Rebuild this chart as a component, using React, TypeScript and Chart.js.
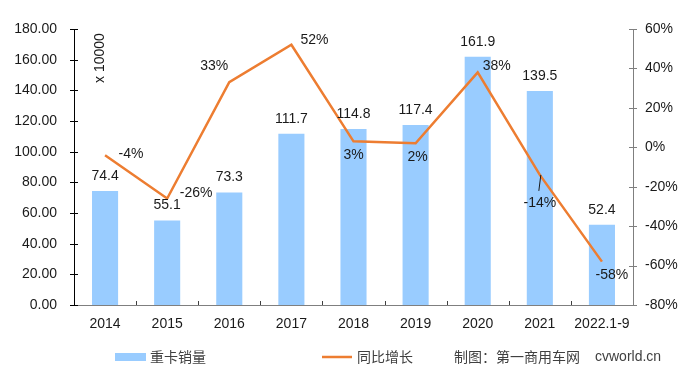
import React, { useEffect, useRef } from "react";
import { Chart, registerables } from "chart.js";

Chart.register(...registerables);

const categories = ["2014", "2015", "2016", "2017", "2018", "2019", "2020", "2021", "2022.1-9"];
const sales = [74.4, 55.1, 73.3, 111.7, 114.8, 117.4, 161.9, 139.5, 52.4];
const growth = [-4, -26, 33, 52, 3, 2, 38, -14, -58];
const growthLabels = ["-4%", "-26%", "33%", "52%", "3%", "2%", "38%", "-14%", "-58%"];
// label offsets (dx, dy) relative to the line point
const growthOffsets = [
  [26, -1], [29, -5], [-15, -16], [23, -5], [0, 14], [2, 14], [19, -6], [0, 28], [10, 14],
];

const FONT = "'Liberation Sans', Arial, sans-serif";

const labelPlugin = {
  id: "labels",
  afterDatasetsDraw(chart: any) {
    const ctx = chart.ctx;
    const area = chart.chartArea;
    const yS = chart.scales.y;
    const y1S = chart.scales.y1;
    ctx.save();
    // crossing tick marks
    ctx.lineWidth = 1;
    ctx.strokeStyle = "#000";
    yS.ticks.forEach((t: any) => {
      const p = Math.round(yS.getPixelForValue(t.value)) + 0.5;
      ctx.beginPath();
      ctx.moveTo(area.left - 4, p);
      ctx.lineTo(area.left + 4, p);
      ctx.stroke();
    });
    ctx.strokeStyle = "#7f7f7f";
    y1S.ticks.forEach((t: any) => {
      const p = Math.round(y1S.getPixelForValue(t.value)) + 0.5;
      ctx.beginPath();
      ctx.moveTo(area.right - 4, p);
      ctx.lineTo(area.right + 4, p);
      ctx.stroke();
    });
    const n = categories.length;
    const cw = (area.right - area.left) / n;
    ctx.strokeStyle = "#404040";
    for (let i = 1; i < n; i++) {
      const px = Math.round(area.left + i * cw) + 0.5;
      ctx.beginPath();
      ctx.moveTo(px, area.bottom - 4);
      ctx.lineTo(px, area.bottom);
      ctx.stroke();
    }

    ctx.font = `14px ${FONT}`;
    ctx.fillStyle = "#1a1a1a";
    ctx.textAlign = "center";
    ctx.textBaseline = "middle";
    // bar labels
    const barMeta = chart.getDatasetMeta(1);
    barMeta.data.forEach((el: any, i: number) => {
      ctx.fillText(sales[i].toFixed(1), el.x, el.y - 15);
    });
    // line labels
    const lineMeta = chart.getDatasetMeta(0);
    lineMeta.data.forEach((el: any, i: number) => {
      const [dx, dy] = growthOffsets[i];
      ctx.fillText(growthLabels[i], el.x + dx, el.y + dy);
      if (i === 7) {
        ctx.strokeStyle = "#1a1a1a";
        ctx.beginPath();
        ctx.moveTo(el.x + 1, el.y);
        ctx.lineTo(el.x - 1, el.y + dy - 12);
        ctx.stroke();
      }
    });

    // unit text
    ctx.save();
    ctx.translate(100, 58);
    ctx.rotate(-Math.PI / 2);
    ctx.fillText("x 10000", 0, 0);
    ctx.restore();

    // legend
    const ly = 357;
    ctx.fillStyle = "#99CCFF";
    ctx.fillRect(115, ly - 4, 31, 8);
    ctx.strokeStyle = "#ED7D31";
    ctx.lineWidth = 2.5;
    ctx.beginPath();
    ctx.moveTo(322, ly);
    ctx.lineTo(352, ly);
    ctx.stroke();
    ctx.fillStyle = "#404040";
    ctx.textAlign = "left";
    ctx.font = `14px 'Noto Sans CJK SC', ${FONT}`;
    ctx.fillText("重卡销量", 150, ly);
    ctx.fillText("同比增长", 357, ly);
    ctx.fillText("制图：第一商用车网", 454, ly);
    ctx.font = `14px ${FONT}`;
    ctx.fillText("cvworld.cn", 595, ly);
    ctx.restore();
  },
};

export default function App() {
  const ref = useRef<HTMLCanvasElement>(null);
  useEffect(() => {
    if (!ref.current) return;
    const chart = new Chart(ref.current, {
      type: "bar",
      data: {
        labels: categories,
        datasets: [
          {
            type: "line",
            label: "同比增长",
            data: growth,
            yAxisID: "y1",
            borderColor: "#ED7D31",
            backgroundColor: "#ED7D31",
            borderWidth: 2.5,
            pointRadius: 0,
            tension: 0,
            order: 0,
          } as any,
          {
            type: "bar",
            label: "重卡销量",
            data: sales,
            yAxisID: "y",
            backgroundColor: "#99CCFF",
            categoryPercentage: 1,
            barPercentage: 0.42,
            order: 1,
          },
        ],
      },
      options: {
        responsive: false,
        animation: false,
        layout: { padding: { left: 0, right: 0, top: 29, bottom: 0 } },
        plugins: { legend: { display: false }, tooltip: { enabled: false } },
        scales: {
          x: {
            offset: true,
            grid: { display: false, drawTicks: false },
            border: { display: true, color: "#7f7f7f", width: 1 },
            ticks: { color: "#1a1a1a", font: { family: FONT, size: 14 }, padding: 11, maxRotation: 0 },
            afterFit: (s: any) => { s.height = 77; },
          },
          y: {
            position: "left",
            min: 0,
            max: 180,
            grid: { display: false, drawTicks: false },
            border: { display: true, color: "#000", width: 1 },
            ticks: {
              stepSize: 20,
              color: "#1a1a1a",
              font: { family: FONT, size: 14 },
              padding: 17,
              callback: (v: any) => Number(v).toFixed(2),
            },
            afterFit: (s: any) => { s.width = 74; },
          },
          y1: {
            position: "right",
            min: -80,
            max: 60,
            grid: { display: false, drawTicks: false },
            border: { display: true, color: "#7f7f7f", width: 1 },
            ticks: {
              stepSize: 20,
              color: "#1a1a1a",
              font: { family: FONT, size: 14 },
              padding: 12,
              callback: (v: any) => v + "%",
            },
            afterFit: (s: any) => { s.width = 67; },
          },
        },
      },
      plugins: [labelPlugin],
    });
    return () => chart.destroy();
  }, []);
  return (
    <div style={{ position: "absolute", left: 0, top: 0, width: 700, height: 382, background: "#fff" }}>
      <canvas ref={ref} width={700} height={382} />
    </div>
  );
}
